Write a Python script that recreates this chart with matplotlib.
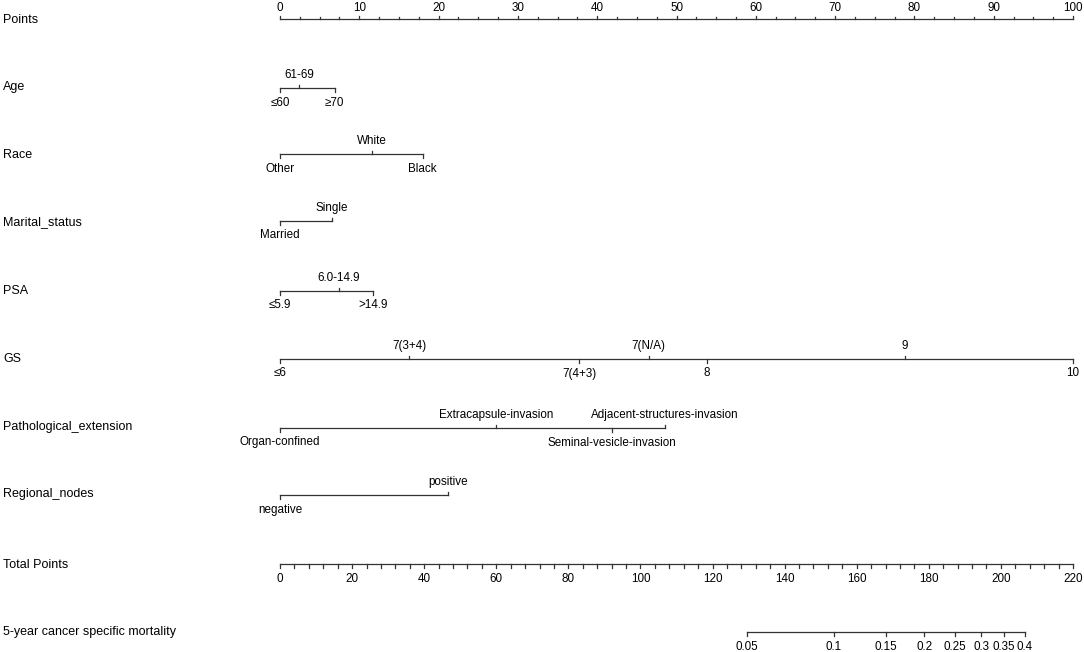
import matplotlib
matplotlib.use('Agg')
import matplotlib.pyplot as plt
import numpy as np

plt.rcParams['font.family'] = ['Liberation Sans', 'DejaVu Sans']

# points assigned to each level
age_levels = ['≤60', '61-69', '≥70']
age_pts = [0, 2.4, 6.9]
race_levels = ['Other', 'White', 'Black']
race_pts = [0, 11.6, 18.0]
marital_levels = ['Married', 'Single']
marital_pts = [0, 6.5]
psa_levels = ['≤5.9', '6.0-14.9', '>14.9']
psa_pts = [0, 7.4, 11.7]
gs_levels = ['≤6', '7(3+4)', '7(4+3)', '7(N/A)', '8', '9', '10']
gs_pts = [0, 16.3, 37.7, 46.5, 53.8, 78.8, 100]
ext_levels = ['Organ-confined', 'Extracapsule-invasion', 'Seminal-vesicle-invasion',
              'Adjacent-structures-invasion']
ext_pts = [0, 27.3, 41.9, 48.5]
node_levels = ['negative', 'positive']
node_pts = [0, 21.2]

total_max = 220
mort_labels = ['0.05', '0.1', '0.15', '0.2', '0.25', '0.3', '0.35', '0.4']
mort_total = [129.5, 153.7, 168.2, 178.7, 187.2, 194.6, 200.8, 206.6]

col = '#333333'
fs = 9      # row labels
lfs = 8.4   # level / tick labels

fig = plt.figure(figsize=(10.84, 6.52), dpi=100)
ax = fig.add_axes([0, 0, 1, 1])
ppx = 793 / 100.0  # pixels per point
ax.set_xlim(-280 / ppx, (1084 - 280) / ppx)
ax.set_ylim(652, 0)
ax.axis('off')
label_x = -277 / ppx
tick = 3.5


def row_label(y, text):
    ax.text(label_x, y, text, fontsize=fs, ha='left', va='center')


def variable(y, levels, pts):
    order = np.argsort(pts)
    ax.plot([min(pts), max(pts)], [y, y], color=col, lw=0.9)
    for k, i in enumerate(order):
        up = k % 2 == 1
        if up:
            ax.plot([pts[i], pts[i]], [y, y - tick], color=col, lw=0.9)
            ax.text(pts[i], y - 13, levels[i], fontsize=lfs, ha='center', va='center')
        else:
            ax.plot([pts[i], pts[i]], [y, y + tick], color=col, lw=0.9)
            ax.text(pts[i], y + 14.5, levels[i], fontsize=lfs, ha='center', va='center')


# Points axis
y = 19
row_label(20, 'Points')
ax.plot([0, 100], [y, y], color=col, lw=0.9)
for v in np.arange(0, 100.1, 2.5):
    major = v % 10 == 0
    ax.plot([v, v], [y, y - (tick if major else 2)], color=col, lw=0.9)
    if major:
        ax.text(v, y - 11, '%d' % v, fontsize=lfs, ha='center', va='center')

row_label(87, 'Age')
variable(88, age_levels, age_pts)
row_label(155, 'Race')
variable(154, race_levels, race_pts)
row_label(222, 'Marital_status')
variable(221, marital_levels, marital_pts)
row_label(291, 'PSA')
variable(291, psa_levels, psa_pts)
row_label(359, 'GS')
variable(359, gs_levels, gs_pts)
row_label(427, 'Pathological_extension')
variable(428, ext_levels, ext_pts)
row_label(494, 'Regional_nodes')
variable(495, node_levels, node_pts)

# Total points axis
y = 564
row_label(565, 'Total Points')
scale = 100.0 / total_max
ax.plot([0, 100], [y, y], color=col, lw=0.9)
for v in np.arange(0, total_max + 0.1, 4):
    ax.plot([v * scale, v * scale], [y, y + tick], color=col, lw=0.9)
for v in np.arange(0, total_max + 0.1, 20):
    ax.text(v * scale, y + 14.5, '%d' % v, fontsize=lfs, ha='center', va='center')

# Mortality axis
y = 632
row_label(632, '5-year cancer specific mortality')
mx = [t * scale for t in mort_total]
ax.plot([mx[0], mx[-1]], [y, y], color=col, lw=0.9)
for xv, lab in zip(mx, mort_labels):
    ax.plot([xv, xv], [y, y + tick], color=col, lw=0.9)
    ax.text(xv, y + 14.5, lab, fontsize=lfs, ha='center', va='center')

plt.savefig('out.png', dpi=100)
